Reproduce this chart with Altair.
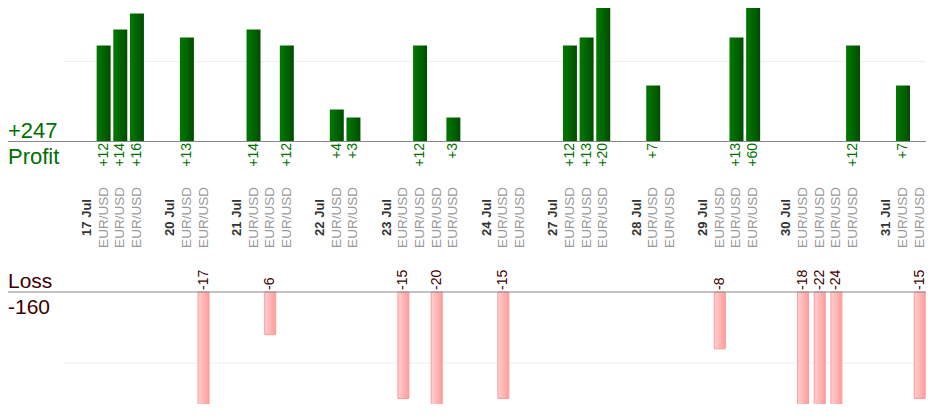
import altair as alt
import pandas as pd

# ---- data ----
day_labels = ["17 Jul", "20 Jul", "21 Jul", "22 Jul", "23 Jul", "24 Jul",
              "27 Jul", "28 Jul", "29 Jul", "30 Jul", "31 Jul"]
trades_per_day = [3, 2, 3, 2, 4, 2, 3, 2, 3, 4, 2]
trade_results = [12, 14, 16,
                 13, -17,
                 14, -6, 12,
                 4, 3,
                 -15, 12, -20, 3,
                 -15, 0,
                 12, 13, 20,
                 7, 0,
                 -8, 13, 60,
                 -18, -22, -24, 12,
                 7, -15]
instrument = "EUR/USD"
profit_grid = [10]
loss_grid = [-10]

# ---- build slot table: spacer, date label, then one slot per trade ----
rows = []
slot = 0
k = 0
for day, n in zip(day_labels, trades_per_day):
    rows.append({"slot": slot, "kind": "spacer", "label": "", "value": None})
    slot += 1
    rows.append({"slot": slot, "kind": "date", "label": day, "value": None})
    slot += 1
    for _ in range(n):
        rows.append({"slot": slot, "kind": "trade", "label": instrument,
                     "value": trade_results[k]})
        slot += 1
        k += 1
n_slots = slot
df = pd.DataFrame(rows)

total_profit = sum(v for v in trade_results if v > 0)
total_loss = sum(v for v in trade_results if v < 0)

W = 918
H = 396
FONT = "Liberation Sans"

X = alt.X("slot:O", axis=None,
          scale=alt.Scale(domain=list(range(n_slots)), range=[54, 920],
                          paddingInner=0.16, paddingOuter=0.08))

profit_scale = alt.Scale(domain=[-32.8125, 16.6875], nice=False, zero=False)
loss_scale = alt.Scale(domain=[-15.77, 40.0], nice=False, zero=False)

green_grad = alt.LinearGradient(
    gradient="linear", x1=0, y1=0, x2=1, y2=0,
    stops=[alt.GradientStop(color="#007a00", offset=0),
           alt.GradientStop(color="#006400", offset=0.5),
           alt.GradientStop(color="#004c00", offset=1)])
pink_grad = alt.LinearGradient(
    gradient="linear", x1=0, y1=0, x2=1, y2=0,
    stops=[alt.GradientStop(color="#ffd0d0", offset=0),
           alt.GradientStop(color="#ff9c9c", offset=1)])

base = alt.Chart(df)

# gridlines
grid_p = alt.Chart(pd.DataFrame({"g": profit_grid})).mark_rule(
    color="#eeeeee", strokeWidth=1).encode(
    y=alt.Y("g:Q", scale=profit_scale, axis=None),
    x=alt.value(55), x2=alt.value(W))
grid_l = alt.Chart(pd.DataFrame({"g": loss_grid})).mark_rule(
    color="#eeeeee", strokeWidth=1).encode(
    y=alt.Y("g:Q", scale=loss_scale, axis=None),
    x=alt.value(55), x2=alt.value(W))

# bars
bars_p = base.transform_filter("datum.value > 0").mark_bar(
    clip=True, color=green_grad).encode(
    x=X,
    y=alt.Y("value:Q", scale=profit_scale, axis=None, stack=None),
    y2=alt.datum(0))
bars_l = base.transform_filter("datum.value < 0").mark_bar(
    clip=True, color=pink_grad, stroke="#ff9999", strokeWidth=1, width=11).encode(
    x=X,
    y=alt.Y("value:Q", scale=loss_scale, axis=None, stack=None),
    y2=alt.datum(0))

# baselines
base_p = alt.Chart(pd.DataFrame({"z": [0]})).mark_rule(
    color="#888888", strokeWidth=1.2).encode(
    y=alt.Y("z:Q", scale=profit_scale, axis=None),
    x=alt.value(0), x2=alt.value(W))
base_l = alt.Chart(pd.DataFrame({"z": [0]})).mark_rule(
    color="#888888", strokeWidth=1.2).encode(
    y=alt.Y("z:Q", scale=loss_scale, axis=None),
    x=alt.value(0), x2=alt.value(W))

# value labels
lab_p = base.transform_filter("datum.value > 0").transform_calculate(
    t="'+' + datum.value").mark_text(
    angle=270, align="right", baseline="middle", fontSize=14,
    font=FONT, color="#007000").encode(
    x=X, y=alt.value(135), text="t:N")
lab_l = base.transform_filter("datum.value < 0").transform_calculate(
    t="'' + datum.value").mark_text(
    angle=270, align="left", baseline="middle", fontSize=14,
    font=FONT, color="#3d0000").encode(
    x=X, y=alt.value(282), text="t:N")

# category labels
lab_date = base.transform_filter("datum.kind == 'date'").mark_text(
    angle=270, align="center", baseline="middle", fontSize=13,
    fontWeight="bold", font=FONT, color="#333333").encode(
    x=X, y=alt.value(209.5), text="label:N")
lab_inst = base.transform_filter("datum.kind == 'trade'").mark_text(
    angle=270, align="center", baseline="middle", fontSize=13.5,
    font=FONT, color="#999999").encode(
    x=X, y=alt.value(209.5), text="label:N")

# side titles
def side_text(txt, y, color, size):
    return alt.Chart(pd.DataFrame({"t": [txt]})).mark_text(
        align="left", baseline="alphabetic", fontSize=size, font=FONT,
        color=color).encode(x=alt.value(0), y=alt.value(y), text="t:N")

t_total_p = side_text(f"+{total_profit}", 129.5, "#007000", 22)
t_profit = side_text("Profit", 155.5, "#007000", 22)
t_loss = side_text("Loss", 280, "#3d0000", 21)
t_total_l = side_text(f"{total_loss}", 305.5, "#3d0000", 21)

chart = alt.layer(
    grid_p, grid_l, bars_p, bars_l, base_p, base_l,
    lab_p, lab_l, lab_date, lab_inst,
    t_total_p, t_profit, t_loss, t_total_l
).resolve_scale(y="independent").properties(
    width=W, height=H, padding=0,
    autosize=alt.AutoSizeParams(type="none"),
    background="white",
).configure_view(stroke=None)

chart.save("out.html", embed_options={"renderer": "svg", "actions": False})
